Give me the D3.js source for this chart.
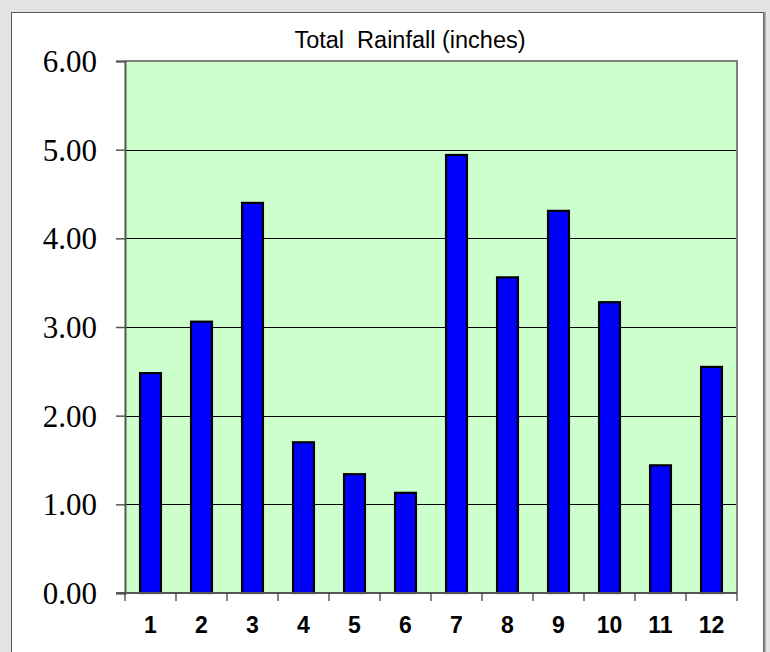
<!DOCTYPE html>
<html>
<head>
<meta charset="utf-8">
<script src="https://cdn.jsdelivr.net/npm/d3@7/dist/d3.min.js"></script>
<style>
  html, body { margin: 0; padding: 0; background: #e3e3e3; }
  svg { display: block; }
</style>
</head>
<body>
<svg id="chart" width="770" height="652"></svg>
<script>
const title = "Total  Rainfall (inches)";
const months = ["1","2","3","4","5","6","7","8","9","10","11","12"];
const rainfall = [2.48, 3.06, 4.40, 1.70, 1.34, 1.13, 4.94, 3.56, 4.31, 3.28, 1.44, 2.55];
const yTicks = [0, 1, 2, 3, 4, 5, 6];

const svg = d3.select("#chart");
const W = 770, H = 652;
const plot = { left: 125, top: 61, right: 737, bottom: 593 };

// outer panel
svg.append("rect").attr("x", 0).attr("y", 0).attr("width", W).attr("height", H).attr("fill", "#e3e3e3");
svg.append("rect").attr("x", 11.5).attr("y", 12.5).attr("width", 752).attr("height", 660)
  .attr("fill", "#ffffff").attr("stroke", "#555").attr("stroke-width", 1);
svg.append("line").attr("x1", 764.5).attr("x2", 764.5).attr("y1", 12).attr("y2", H)
  .attr("stroke", "#888").attr("stroke-width", 2);

const xOuter = d3.scaleBand().domain(months).range([plot.left, plot.right]).padding(0);
const x = d3.scaleBand().domain(months).range([plot.left, plot.right])
  .paddingInner(0.59).paddingOuter(0.295);
const y = d3.scaleLinear().domain([0, 6]).range([plot.bottom, plot.top]);

// plot background
svg.append("rect").attr("x", plot.left).attr("y", plot.top)
  .attr("width", plot.right - plot.left).attr("height", plot.bottom - plot.top)
  .attr("fill", "#ccffcc");

// gridlines
svg.append("g").selectAll("line").data(yTicks.filter(v => v > 0 && v < 6)).join("line")
  .attr("x1", plot.left).attr("x2", plot.right)
  .attr("y1", d => Math.round(y(d)) + 0.5).attr("y2", d => Math.round(y(d)) + 0.5)
  .attr("stroke", "#000").attr("stroke-width", 1);

// plot border top/right
svg.append("path")
  .attr("d", `M${plot.left},${plot.top} H${plot.right} V${plot.bottom}`)
  .attr("fill", "none").attr("stroke", "#808080").attr("stroke-width", 2);

// bars
svg.append("g").selectAll("rect").data(rainfall).join("rect")
  .attr("x", (d, i) => x(months[i]))
  .attr("width", x.bandwidth())
  .attr("y", d => y(d))
  .attr("height", d => y(0) - y(d))
  .attr("fill", "#0000ff").attr("stroke", "#000").attr("stroke-width", 2.2);

// y axis
const yAxis = d3.axisLeft(y).tickValues(yTicks).tickFormat(d3.format(".2f"))
  .tickSize(9).tickPadding(19);
const gy = svg.append("g").attr("transform", `translate(${plot.left},0)`).call(yAxis);
gy.select(".domain").attr("stroke", "#555").attr("stroke-width", 2);
gy.selectAll(".tick line").attr("stroke", "#555").attr("stroke-width", 1.5);
gy.selectAll(".tick text").attr("font-family", "'Liberation Serif', 'Times New Roman', serif")
  .attr("font-size", 31).attr("fill", "#000").attr("dy", "0.34em");

// x axis line
svg.append("line").attr("x1", plot.left - 9).attr("x2", plot.right)
  .attr("y1", plot.bottom).attr("y2", plot.bottom)
  .attr("stroke", "#555").attr("stroke-width", 2);

// x ticks at category boundaries
const bounds = months.map(m => xOuter(m)).concat([plot.right]);
svg.append("g").selectAll("line").data(bounds).join("line")
  .attr("x1", d => d).attr("x2", d => d)
  .attr("y1", plot.bottom).attr("y2", plot.bottom + 8)
  .attr("stroke", "#333").attr("stroke-width", 1.2);

// x labels
svg.append("g").selectAll("text").data(months).join("text")
  .attr("x", d => xOuter(d) + xOuter.bandwidth() / 2)
  .attr("y", 633)
  .attr("text-anchor", "middle")
  .attr("font-family", "'Liberation Sans', Arial, sans-serif")
  .attr("font-weight", "bold").attr("font-size", 23).attr("fill", "#000")
  .text(d => d);

// title
svg.append("text").attr("x", 410).attr("y", 48)
  .attr("text-anchor", "middle")
  .attr("font-family", "'Liberation Sans', Arial, sans-serif")
  .attr("font-size", 23.5).attr("fill", "#000")
  .attr("xml:space", "preserve").style("white-space", "pre")
  .text(title);
</script>
</body>
</html>
